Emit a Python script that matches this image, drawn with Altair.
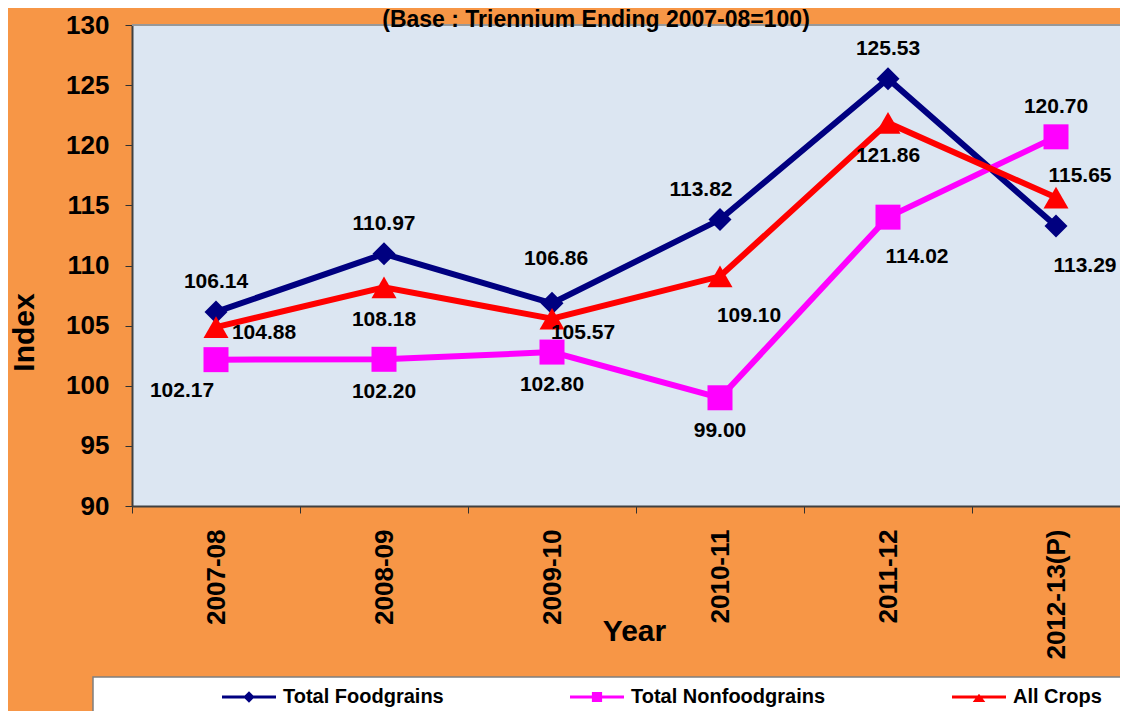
import altair as alt
import pandas as pd

# ---------------- data ----------------
years = ["2007-08", "2008-09", "2009-10", "2010-11", "2011-12", "2012-13(P)"]
series_names = ["Total Foodgrains", "Total Nonfoodgrains", "All Crops"]
foodgrains = [106.14, 110.97, 106.86, 113.82, 125.53, 113.29]
nonfoodgrains = [102.17, 102.20, 102.80, 99.00, 114.02, 120.70]
all_crops = [104.88, 108.18, 105.57, 109.10, 121.86, 115.65]
# side of the point on which each value label sits
food_label_pos = ["N", "N", "NN", "NW", "N", "SE"]
nonfood_label_pos = ["SW", "S", "S", "S", "SE", "N"]
crops_label_pos = ["E", "S", "ESE", "SE", "S", "NE"]
y_ticks = [90, 95, 100, 105, 110, 115, 120, 125, 130]
title_text = "(Base : Triennium Ending 2007-08=100)"

# ---------------- styles ----------------
FONT = "Liberation Sans"
colors = ["#000080", "#FF00FF", "#FF0000"]
shapes = ["diamond", "square", "triangle-up"]
marker_sizes = [529, 625, 625]
label_offsets = {
    "N": (0, -30), "NN": (4, -44), "NW": (-19, -30), "S": (0, 33),
    "SE": (29, 40), "SW": (-34, 31), "E": (48, 6), "ESE": (31, 14),
    "NE": (24, -22),
}
# legend symbols: a short line with the series marker on it (unit = 6 px)
legend_paths = [
    "M-4.5,-0.25H4.5V0.25H-4.5Z M0,-0.95L0.95,0L0,0.95L-0.95,0Z",
    "M-4.5,-0.25H4.5V0.25H-4.5Z M-0.85,-0.85H0.85V0.85H-0.85Z",
    "M-4.5,-0.25H4.5V0.25H-4.5Z M0,-0.55L1.05,0.85H-1.05Z",
]

rows = []
for s, vals, poss in zip(series_names, [foodgrains, nonfoodgrains, all_crops],
                         [food_label_pos, nonfood_label_pos, crops_label_pos]):
    for yr, v, p in zip(years, vals, poss):
        rows.append({"year": yr, "series": s, "value": v, "pos": p})
df = pd.DataFrame(rows)
one = pd.DataFrame({"title": [title_text]})

x_enc = alt.X(
    "year:N", sort=years, bandPosition=0.5,
    scale=alt.Scale(type="band", domain=years, range=[0, 1008],
                    paddingInner=0, paddingOuter=0),
    axis=alt.Axis(
        labelAngle=-90, labelAlign="right", labelBaseline="middle",
        labelFont=FONT, labelFontSize=26, labelFontWeight="bold",
        labelColor="black", labelPadding=16, tickBand="extent",
        tickSize=7, tickColor="#303030", tickWidth=1,
        domainColor="#404040", domainWidth=2, grid=False,
        title="Year", titleFont=FONT, titleFontSize=30,
        titleFontWeight="bold", titleColor="black",
        titleX=502, titleY=134, titleBaseline="alphabetic",
        titleAlign="center", labelOverlap=False,
    ),
)
y_enc = alt.Y(
    "value:Q",
    scale=alt.Scale(domain=[y_ticks[0], y_ticks[-1]], nice=False, zero=False),
    axis=alt.Axis(
        values=y_ticks, grid=False, domainColor="#404040", domainWidth=2,
        tickColor="#303030", tickWidth=1, tickSize=7,
        labelFont=FONT, labelFontSize=26, labelFontWeight="bold",
        labelColor="black", labelPadding=16,
        title="Index", titleFont=FONT, titleFontSize=30,
        titleFontWeight="bold", titleColor="black",
        titleX=-99, titleY=307, titleBaseline="alphabetic", titleAlign="center",
    ),
)
color_legend = alt.Color(
    "series:N", sort=series_names,
    scale=alt.Scale(domain=series_names, range=colors),
    legend=alt.Legend(
        orient="none", legendX=107, legendY=662, direction="horizontal",
        columns=3, columnPadding=126, title=None, padding=0,
        labelFont=FONT, labelFontSize=20, labelFontWeight="bold",
        labelColor="black", labelOffset=24, labelLimit=400, symbolSize=144,
        symbolStrokeWidth=0, symbolOpacity=1,
    ),
)

base = alt.Chart(df)

legend_box = alt.Chart(one).mark_rect(
    fill="white", stroke="#7F7F7F", strokeWidth=1.5
).encode(x=alt.value(-39), x2=alt.value(1010), y=alt.value(652), y2=alt.value(720))

top_rule = alt.Chart(one).mark_rule(color="#989898", strokeWidth=2).encode(
    y=alt.Y(datum=y_ticks[-1])
)

title_mark = alt.Chart(one).mark_text(
    font=FONT, fontSize=23, fontWeight="bold", color="black",
    align="center", baseline="alphabetic",
).encode(x=alt.value(464), y=alt.value(2), text="title:N")

line_layers = []
point_layers = []
for s, c, shp, sz in zip(series_names, colors, shapes, marker_sizes):
    sub = base.transform_filter(alt.datum.series == s)
    line_layers.append(sub.mark_line(strokeWidth=6, color=c).encode(x=x_enc, y=y_enc))
    point_layers.append(
        sub.mark_point(filled=True, opacity=1, strokeWidth=0, shape=shp, size=sz, color=c)
        .encode(x=x_enc, y=y_enc)
    )

# layer that only carries the legend (its marks are filtered away)
legend_layer = base.transform_filter("false").mark_point(
    filled=True, opacity=1, strokeWidth=0, size=144
).encode(
    x=x_enc, y=y_enc, color=color_legend,
    shape=alt.Shape("series:N", scale=alt.Scale(domain=series_names, range=legend_paths),
                    legend=None),
)

texts = []
for key, (dx, dy) in label_offsets.items():
    texts.append(
        base.transform_filter(alt.datum.pos == key).mark_text(
            dx=dx, dy=dy, font=FONT, fontSize=21, fontWeight="bold",
            color="black", align="center", baseline="middle",
        ).encode(x=x_enc, y=y_enc, text=alt.Text("value:Q", format=".2f"))
    )

chart = alt.layer(
    legend_box, top_rule, title_mark, *line_layers, *point_layers, *texts, legend_layer
).properties(
    width=988, height=481,
    autosize=alt.AutoSizeParams(type="none"),
    padding={"left": 124, "top": 17, "right": 0, "bottom": 205},
    background="#F79646",
).configure_view(fill="#DCE6F2", strokeWidth=0)

chart.save("out.html", embed_options={"renderer": "svg", "actions": False})
